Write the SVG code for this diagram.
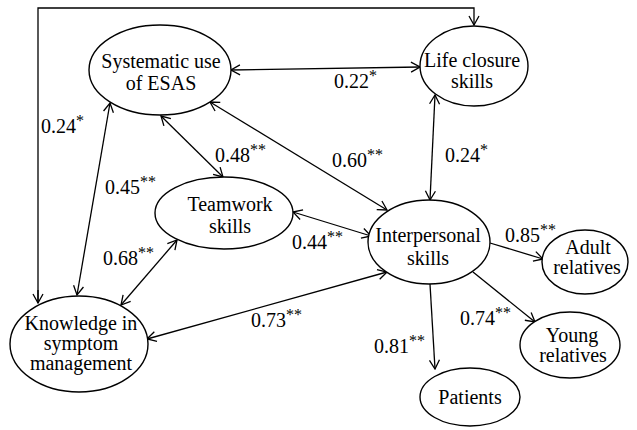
<svg xmlns="http://www.w3.org/2000/svg" width="637" height="430" viewBox="0 0 637 430">
<style>
.n ellipse{fill:#fff;stroke:#000;stroke-width:1.4}
text{font-family:"Liberation Serif","Times New Roman",serif;font-size:20px;fill:#000}
.n text{text-anchor:middle}
.c line,.c polyline{stroke:#000;stroke-width:1.3;fill:none}
.s{font-size:16px}
</style>
<defs>
<marker id="a" viewBox="0 0 12 12" refX="11" refY="6" markerWidth="12" markerHeight="12" markerUnits="userSpaceOnUse" orient="auto-start-reverse">
<path d="M2,1 L11,6 L2,11" fill="none" stroke="#000" stroke-width="1.3"/>
</marker>
</defs>
<g class="c" id="connectors">
<polyline points="38,303 38,8 474,8 474,25" marker-end="url(#a)"/>
<line x1="38" y1="290" x2="38" y2="303" marker-end="url(#a)"/>
<line x1="231" y1="70" x2="420" y2="67" marker-start="url(#a)" marker-end="url(#a)"/>
<line x1="161" y1="116" x2="223" y2="177" marker-start="url(#a)" marker-end="url(#a)"/>
<line x1="210" y1="102" x2="387" y2="210" marker-start="url(#a)" marker-end="url(#a)"/>
<line x1="435" y1="95" x2="430" y2="200" marker-start="url(#a)" marker-end="url(#a)"/>
<line x1="110" y1="103" x2="77" y2="295" marker-start="url(#a)" marker-end="url(#a)"/>
<line x1="293" y1="212" x2="371" y2="236" marker-start="url(#a)" marker-end="url(#a)"/>
<line x1="177" y1="240" x2="121" y2="305" marker-start="url(#a)" marker-end="url(#a)"/>
<line x1="147" y1="339" x2="387" y2="272" marker-start="url(#a)" marker-end="url(#a)"/>
<line x1="490" y1="243" x2="543" y2="259" marker-end="url(#a)"/>
<line x1="473" y1="272" x2="535" y2="322" marker-end="url(#a)"/>
<line x1="430" y1="284" x2="435" y2="369" marker-end="url(#a)"/>
</g>
<g class="n" id="esas"><ellipse cx="160" cy="70" rx="71" ry="45"/><text x="161" y="68">Systematic use</text><text x="161" y="90">of ESAS</text></g>
<g class="n" id="life"><ellipse cx="474" cy="66" rx="54" ry="40"/><text x="472" y="67">Life closure</text><text x="472" y="88">skills</text></g>
<g class="n" id="teamwork"><ellipse cx="224" cy="213" rx="69" ry="36"/><text x="230" y="211">Teamwork</text><text x="230" y="233">skills</text></g>
<g class="n" id="knowledge"><ellipse cx="79" cy="344" rx="69" ry="48"/><text x="81" y="330">Knowledge in</text><text x="81" y="350">symptom</text><text x="81" y="370">management</text></g>
<g class="n" id="interpersonal"><ellipse cx="429" cy="242" rx="61" ry="42"/><text x="428" y="242">Interpersonal</text><text x="428" y="265">skills</text></g>
<g class="n" id="adult"><ellipse cx="585" cy="262" rx="43" ry="32"/><text x="588" y="254">Adult</text><text x="587" y="274">relatives</text></g>
<g class="n" id="young"><ellipse cx="570" cy="345" rx="50" ry="33"/><text x="572" y="342">Young</text><text x="573" y="362">relatives</text></g>
<g class="n" id="patients"><ellipse cx="470" cy="397" rx="50" ry="29"/><text x="470" y="404">Patients</text></g>
<g id="labels">
<text x="41" y="133">0.24<tspan class="s" dy="-7">*</tspan></text>
<text x="105" y="194">0.45<tspan class="s" dy="-7">**</tspan></text>
<text x="215" y="162">0.48<tspan class="s" dy="-7">**</tspan></text>
<text x="334" y="88">0.22<tspan class="s" dy="-7">*</tspan></text>
<text x="332" y="167">0.60<tspan class="s" dy="-7">**</tspan></text>
<text x="445" y="162">0.24<tspan class="s" dy="-7">*</tspan></text>
<text x="292" y="249">0.44<tspan class="s" dy="-7">**</tspan></text>
<text x="103" y="265">0.68<tspan class="s" dy="-7">**</tspan></text>
<text x="251" y="327">0.73<tspan class="s" dy="-7">**</tspan></text>
<text x="505" y="242">0.85<tspan class="s" dy="-7">**</tspan></text>
<text x="460" y="325">0.74<tspan class="s" dy="-7">**</tspan></text>
<text x="374" y="353">0.81<tspan class="s" dy="-7">**</tspan></text>
</g>
</svg>
